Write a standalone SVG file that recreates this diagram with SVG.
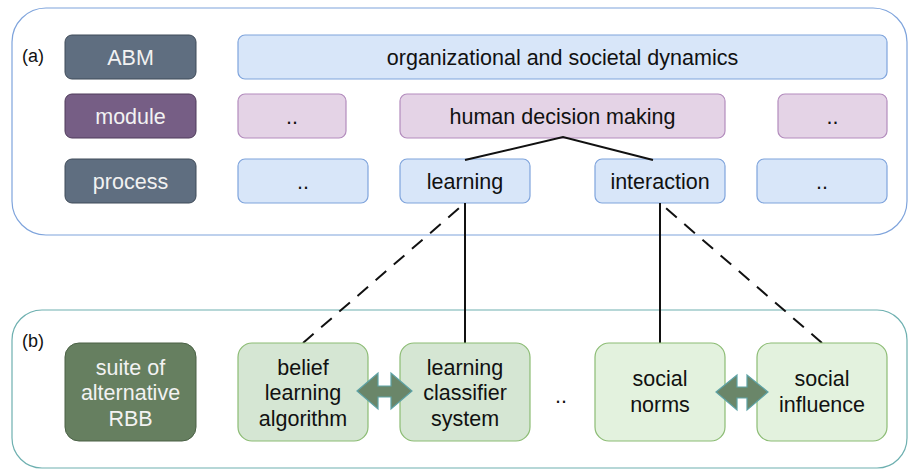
<svg xmlns="http://www.w3.org/2000/svg" width="908" height="470" viewBox="0 0 908 470">
<style>
text{font-family:"Liberation Sans",Arial,sans-serif;font-size:21.5px;text-anchor:middle}
.lbl{fill:#f2f2f2}
.dk{fill:#111111}
.slate{fill:#5f6e80;stroke:#3e4a58;stroke-width:1}
.purp{fill:#765e85;stroke:#4e3a5a;stroke-width:1}
.blue{fill:#d8e6f9;stroke:#7fa4dc;stroke-width:1.2}
.pink{fill:#e4d3e6;stroke:#b38cbd;stroke-width:1.2}
.dgreen{fill:#667f60;stroke:#4a6145;stroke-width:1}
.lgreen{fill:#d5e6d3;stroke:#8cbc74;stroke-width:1.2}
.vgreen{fill:#e3f2de;stroke:#8cbc74;stroke-width:1.2}
.sol{stroke:#111;stroke-width:2;fill:none}
.dash{stroke:#111;stroke-width:2;fill:none;stroke-dasharray:14 10}
.dbl{fill:#6a8669;stroke:#5ea3a6;stroke-width:1.2}
</style>
<g id="panel-a">
<rect x="12" y="8" width="895" height="227" rx="34" fill="#ffffff" stroke="#7fa4dc" stroke-width="1.2"/>
<text x="33" y="62" class="dk" style="font-size:18px">(a)</text>
</g>
<g id="panel-b">
<rect x="12" y="310" width="895" height="158" rx="30" fill="#ffffff" stroke="#6eb0b0" stroke-width="1.2"/>
<text x="33" y="347" class="dk" style="font-size:18px">(b)</text>
</g>
<g id="abm"><rect x="65" y="35" width="131" height="44" rx="7" class="slate"/><text x="130.5" y="64.5" class="lbl">ABM</text></g>
<g id="module"><rect x="65" y="94" width="131" height="44" rx="7" class="purp"/><text x="130.5" y="123.5" class="lbl">module</text></g>
<g id="process"><rect x="65" y="159" width="131" height="44" rx="7" class="slate"/><text x="130.5" y="188.5" class="lbl">process</text></g>
<g id="org"><rect x="238" y="35" width="649" height="44" rx="7" class="blue"/><text x="562.5" y="64.5" class="dk">organizational and societal dynamics</text></g>
<g id="mod-left"><rect x="238" y="94" width="108" height="44" rx="7" class="pink"/><text x="292" y="123.5" class="dk">..</text></g>
<g id="hdm"><rect x="400" y="94" width="325" height="44" rx="7" class="pink"/><text x="562.5" y="123.5" class="dk">human decision making</text></g>
<g id="mod-right"><rect x="778" y="94" width="109" height="44" rx="7" class="pink"/><text x="832.5" y="123.5" class="dk">..</text></g>
<g id="proc-left"><rect x="238" y="159" width="130" height="44" rx="7" class="blue"/><text x="303" y="188.5" class="dk">..</text></g>
<g id="learning"><rect x="400" y="159" width="130" height="44" rx="7" class="blue"/><text x="465" y="188.5" class="dk">learning</text></g>
<g id="interaction"><rect x="595" y="159" width="130" height="44" rx="7" class="blue"/><text x="660" y="188.5" class="dk">interaction</text></g>
<g id="proc-right"><rect x="757" y="159" width="130" height="44" rx="7" class="blue"/><text x="822" y="188.5" class="dk">..</text></g>
<g id="connectors">
<polyline points="465,160 563,137 653,160" class="sol"/>
<line x1="465" y1="203" x2="465" y2="343" class="sol"/>
<line x1="660" y1="203" x2="660" y2="343" class="sol"/>
<line x1="303" y1="343" x2="465" y2="203" class="dash"/>
<line x1="822" y1="343" x2="660" y2="203" class="dash"/>
</g>
<g id="suite"><rect x="65" y="343" width="131" height="98" rx="14" class="dgreen"/>
<text x="130.5" y="374.5" class="lbl">suite of</text><text x="130.5" y="400" class="lbl">alternative</text><text x="130.5" y="425.5" class="lbl">RBB</text></g>
<g id="belief"><rect x="238" y="343" width="130" height="98" rx="14" class="lgreen"/>
<text x="303" y="374.5" class="dk">belief</text><text x="303" y="400" class="dk">learning</text><text x="303" y="425.5" class="dk">algorithm</text></g>
<g id="lcs"><rect x="400" y="343" width="130" height="98" rx="14" class="lgreen"/>
<text x="465" y="374.5" class="dk">learning</text><text x="465" y="400" class="dk">classifier</text><text x="465" y="425.5" class="dk">system</text></g>
<g id="dots"><text x="561" y="403" class="dk">..</text></g>
<g id="norms"><rect x="595" y="343" width="130" height="98" rx="14" class="vgreen"/>
<text x="660" y="386" class="dk">social</text><text x="660" y="412" class="dk">norms</text></g>
<g id="influence"><rect x="757" y="343" width="130" height="98" rx="14" class="vgreen"/>
<text x="822" y="386" class="dk">social</text><text x="822" y="412" class="dk">influence</text></g>
<g id="double-arrows">
<path d="M357,391 L378,373 L378,386 L391,386 L391,373 L412,391 L391,409 L391,397 L378,397 L378,409 Z" class="dbl"/>
<path d="M716,392 L737,375 L737,387 L747,387 L747,375 L768,392 L747,410 L747,398 L737,398 L737,410 Z" class="dbl"/>
</g>
</svg>
